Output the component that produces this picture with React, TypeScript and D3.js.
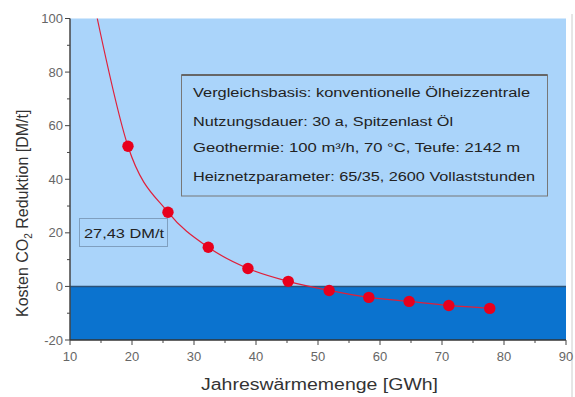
import React from "react";
import * as d3 from "d3";

const xValues = [19.35, 25.8, 32.3, 38.7, 45.2, 51.8, 58.2, 64.7, 71.1, 77.7];
const yValues = [52.3, 27.7, 14.6, 6.7, 1.9, -1.5, -4.1, -5.6, -7.1, -8.2];
const fitStart = { x: 14.4, y: 100 };
const xTicks = [10, 20, 30, 40, 50, 60, 70, 80, 90];
const yTicks = [-20, 0, 20, 40, 60, 80, 100];
const infoLines = [
  "Vergleichsbasis: konventionelle Ölheizzentrale",
  "Nutzungsdauer: 30 a, Spitzenlast Öl",
  "Geothermie: 100 m³/h, 70 °C, Teufe: 2142 m",
  "Heiznetzparameter: 65/35, 2600 Vollaststunden",
];
const valueLabel = "27,43 DM/t";

export default function App() {
  const W = 575, H = 397;
  const x = d3.scaleLinear().domain([10, 90]).range([70, 566]);
  const y = d3.scaleLinear().domain([-20, 100]).range([340, 18.5]);
  const pts = xValues.map((v, i) => ({ x: v, y: yValues[i] }));
  const line = d3
    .line<{ x: number; y: number }>()
    .x((d) => x(d.x))
    .y((d) => y(d.y))
    .curve(d3.curveMonotoneX);
  const fitPath = line([fitStart, ...pts]) || "";
  const minorX = d3.range(15, 90, 10);
  const minorY = d3.range(-10, 100, 20);
  const font = "'Liberation Sans', Arial, sans-serif";
  const tickColor = "#666";
  const infoWidths = [337, 260, 327, 342];
  const infoY = [97, 126, 152, 181];
  return (
    <svg
      width={W}
      height={H}
      style={{ position: "absolute", left: 0, top: 0, background: "#fff" }}
      fontFamily={font}
    >
      {/* plot backgrounds */}
      <rect x={x(10)} y={y(100)} width={x(90) - x(10)} height={y(0) - y(100)} fill="#aad4fa" />
      <rect x={x(10)} y={y(0)} width={x(90) - x(10)} height={y(-20) - y(0)} fill="#0b73cf" />
      <line x1={x(10)} x2={x(90)} y1={y(0)} y2={y(0)} stroke="#2b5278" strokeWidth={1.5} />
      <line x1={572} x2={572} y1={14} y2={397} stroke="#ccc" strokeWidth={1} />

      {/* axes */}
      <line x1={x(10)} x2={x(10)} y1={y(100)} y2={y(-20)} stroke="#444" strokeWidth={1.5} />
      <line x1={x(10)} x2={x(90)} y1={y(-20)} y2={y(-20)} stroke="#333" strokeWidth={1.5} />
      {yTicks.map((t) => (
        <g key={"yt" + t}>
          <line x1={x(10) - 5} x2={x(10)} y1={y(t)} y2={y(t)} stroke="#444" />
          <text x={x(10) - 7} y={y(t)} dy="0.35em" textAnchor="end" fontSize={13} fill={tickColor}>
            {t}
          </text>
        </g>
      ))}
      {minorY.map((t) => (
        <line key={"ym" + t} x1={x(10) - 3} x2={x(10)} y1={y(t)} y2={y(t)} stroke="#444" />
      ))}
      {xTicks.map((t) => (
        <g key={"xt" + t}>
          <line x1={x(t)} x2={x(t)} y1={y(-20)} y2={y(-20) + 5} stroke="#444" />
          <text x={x(t)} y={y(-20) + 21} textAnchor="middle" fontSize={13} fill={tickColor}>
            {t}
          </text>
        </g>
      ))}
      {minorX.map((t) => (
        <line key={"xm" + t} x1={x(t)} x2={x(t)} y1={y(-20)} y2={y(-20) + 3} stroke="#444" />
      ))}

      {/* fit line and points */}
      <path d={fitPath} fill="none" stroke="#e0203a" strokeWidth={1.2} />
      {pts.map((p, i) => (
        <circle key={i} cx={x(p.x)} cy={y(p.y)} r={5.7} fill="#e8001c" />
      ))}

      {/* info box */}
      <rect x={181.5} y={75} width={366} height={121} fill="none" stroke="#777" strokeWidth={1} />
      <line x1={181.5} x2={547.5} y1={75} y2={75} stroke="#666" strokeWidth={2} />
      {infoLines.map((s, i) => (
        <text
          key={i}
          x={193}
          y={infoY[i]}
          fontSize={12.5}
          fill="#222"
          textLength={infoWidths[i]}
          lengthAdjust="spacingAndGlyphs"
        >
          {s}
        </text>
      ))}

      {/* value label */}
      <rect x={79.5} y={218.5} width={88} height={28} fill="none" stroke="#7f9fbf" strokeWidth={1} />
      <text x={84} y={237.5} fontSize={13.5} fill="#222" textLength={80} lengthAdjust="spacingAndGlyphs">
        {valueLabel}
      </text>

      {/* axis titles */}
      <text x={201} y={390} fontSize={16} fill="#333" textLength={237} lengthAdjust="spacingAndGlyphs">
        Jahreswärmemenge [GWh]
      </text>
      <text transform="translate(28,317) rotate(-90)" fontSize={16} fill="#333">
        Kosten CO<tspan dy="4" fontSize={10}>2</tspan>
        <tspan dy="-4"> Reduktion [DM/t]</tspan>
      </text>
    </svg>
  );
}
